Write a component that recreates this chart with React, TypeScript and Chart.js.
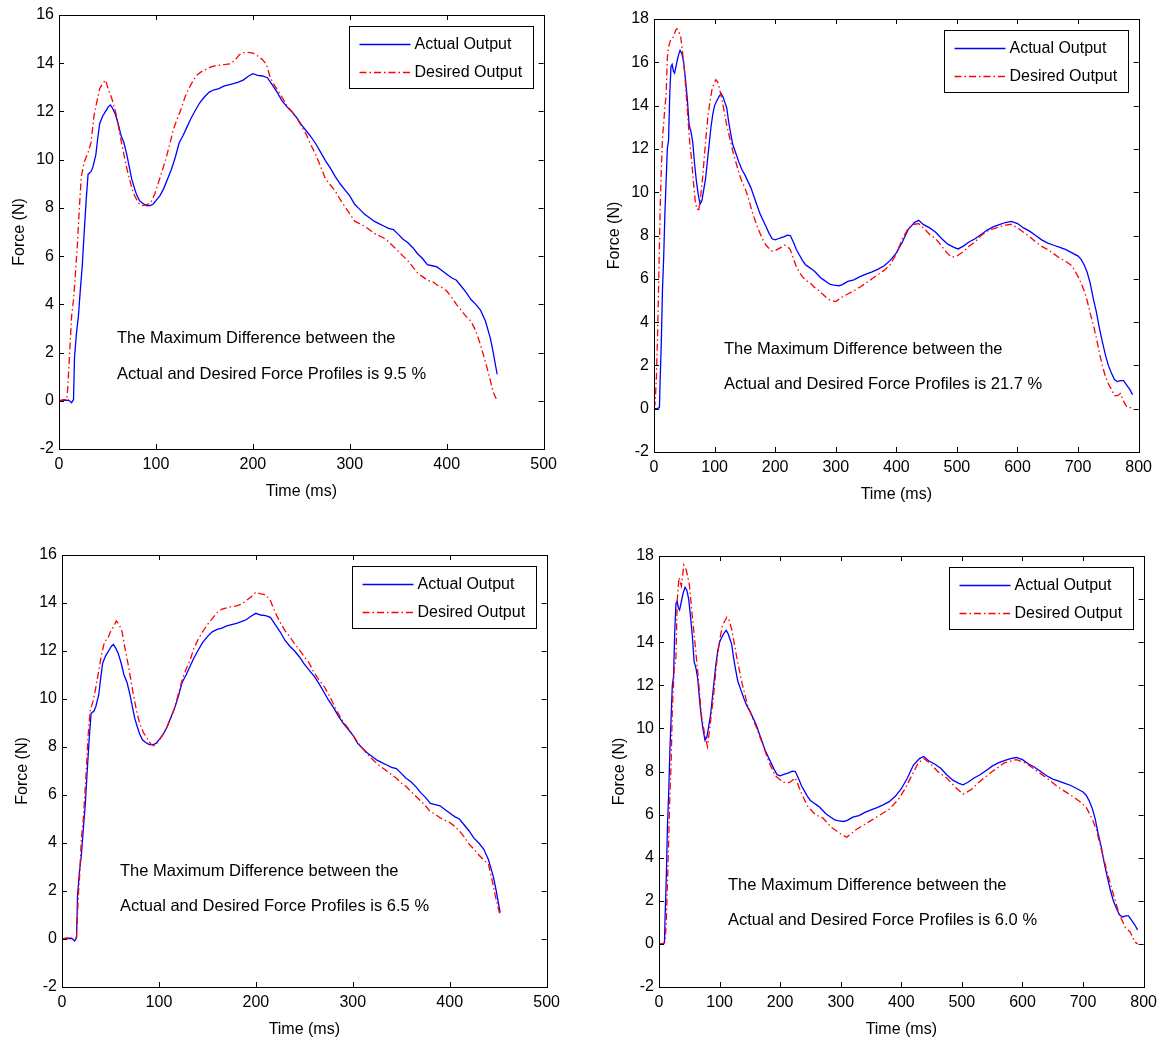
import React, { useEffect, useRef } from "react";
import { Chart, registerables } from "chart.js";

Chart.register(...registerables);

// ---------- DATA ----------
// Panels 1 & 3 (0-500 ms): actual output
const tActual1 = [0, 5, 10, 13, 15, 16, 18, 20, 22, 24, 26, 28, 30, 33, 35, 38, 40, 42, 45, 48, 51, 53, 55, 58, 61, 64, 67, 70, 73, 75, 78, 80, 83, 86, 90, 94, 97, 100, 104, 108, 112, 116, 120, 124, 128, 132, 136, 140, 145, 150, 155, 160, 165, 170, 175, 180, 185, 190, 195, 200, 205, 210, 215, 220, 225, 230, 235, 240, 245, 250, 255, 260, 265, 270, 275, 280, 285, 290, 295, 300, 305, 310, 315, 320, 325, 330, 335, 340, 345, 350, 355, 360, 365, 370, 375, 380, 385, 390, 395, 400, 405, 410, 415, 420, 425, 430, 435, 440, 445, 448, 452];
const fActual1 = [0, 0.02, 0.03, -0.08, 0.05, 1.8, 2.8, 3.5, 4.6, 5.6, 7.0, 8.3, 9.4, 9.5, 9.7, 10.2, 10.9, 11.5, 11.8, 12.0, 12.2, 12.27, 12.15, 11.9, 11.5, 11.0, 10.7, 10.2, 9.6, 9.2, 8.8, 8.55, 8.3, 8.2, 8.1, 8.1, 8.15, 8.3, 8.5, 8.8, 9.2, 9.6, 10.1, 10.7, 11.0, 11.35, 11.7, 12.0, 12.35, 12.6, 12.8, 12.9, 12.95, 13.05, 13.1, 13.15, 13.22, 13.3, 13.45, 13.57, 13.5, 13.47, 13.4, 13.1, 12.8, 12.45, 12.2, 12.0, 11.75, 11.45, 11.2, 10.95, 10.65, 10.3, 9.95, 9.65, 9.3, 9.0, 8.75, 8.5, 8.15, 7.95, 7.75, 7.6, 7.45, 7.35, 7.25, 7.15, 7.1, 6.9, 6.7, 6.55, 6.35, 6.1, 5.9, 5.65, 5.6, 5.55, 5.4, 5.25, 5.1, 5.0, 4.75, 4.5, 4.2, 4.0, 3.75, 3.3, 2.6, 2.0, 1.1];

// Panel 1: desired output
const tDesired1 = [0, 5, 8, 9, 11, 13, 15, 17, 19, 21, 23, 26, 30, 33, 36, 39, 42, 45, 48, 51, 54, 57, 60, 63, 66, 69, 72, 75, 78, 82, 86, 90, 95, 99, 103, 107, 110, 114, 118, 122, 126, 130, 134, 138, 142, 147, 152, 157, 162, 167, 172, 177, 182, 186, 190, 195, 200, 205, 210, 214, 218, 222, 226, 230, 235, 240, 245, 250, 255, 260, 265, 270, 275, 280, 285, 290, 295, 300, 305, 310, 315, 320, 325, 330, 335, 340, 345, 350, 355, 360, 365, 370, 375, 380, 385, 390, 395, 400, 405, 410, 415, 420, 425, 430, 435, 440, 444, 448, 452];
const fDesired1 = [0, 0.05, 0.05, 0.5, 2.0, 3.5, 4.2, 5.3, 6.5, 8.0, 9.3, 9.9, 10.3, 10.7, 11.8, 12.4, 12.95, 13.15, 13.3, 12.9, 12.6, 12.2, 11.7, 11.0, 10.4, 9.8, 9.3, 8.85, 8.5, 8.2, 8.1, 8.12, 8.25, 8.6, 9.1, 9.6, 10.0, 10.6, 11.25, 11.7, 12.1, 12.6, 12.95, 13.25, 13.5, 13.65, 13.75, 13.85, 13.9, 13.93, 13.95, 13.98, 14.15, 14.35, 14.44, 14.45, 14.42, 14.3, 14.15, 13.95, 13.4, 13.1, 12.85, 12.6, 12.25, 12.0, 11.75, 11.4, 11.05, 10.6, 10.2, 9.7, 9.2, 8.95, 8.7, 8.35, 8.05, 7.75, 7.45, 7.35, 7.25, 7.1, 6.95, 6.85, 6.75, 6.6, 6.4, 6.2, 6.0, 5.8, 5.55, 5.3, 5.15, 5.0, 4.95, 4.8, 4.7, 4.55, 4.3, 4.0, 3.75, 3.5, 3.3, 2.9, 2.3, 1.6, 1.0, 0.35, 0.0];

// Panel 3: desired output
const tDesired3 = [0, 5, 10, 14, 15, 17, 18, 20, 22, 25, 27, 29, 32, 35, 38, 41, 44, 47, 50, 53, 56, 59, 62, 65, 68, 71, 74, 77, 80, 84, 88, 92, 95, 99, 103, 108, 112, 116, 120, 124, 128, 132, 136, 140, 145, 150, 155, 160, 165, 170, 175, 180, 185, 190, 195, 200, 205, 210, 215, 220, 225, 230, 235, 240, 245, 250, 255, 260, 265, 270, 275, 280, 285, 290, 295, 300, 305, 310, 315, 320, 325, 330, 335, 340, 345, 350, 355, 360, 365, 370, 375, 380, 385, 390, 395, 400, 405, 410, 415, 420, 425, 430, 435, 440, 444, 447, 450, 452];
const fDesired3 = [0, 0.05, 0.02, 0.0, 0.1, 1.9, 2.5, 4.2, 5.0, 7.0, 8.5, 9.5, 9.9, 10.5, 11.2, 11.9, 12.4, 12.5, 12.8, 13.0, 13.25, 13.1, 12.8, 12.1, 11.5, 10.8, 10.1, 9.5, 9.0, 8.6, 8.35, 8.1, 8.05, 8.2, 8.45, 8.8, 9.2, 9.6, 10.2, 10.8, 11.25, 11.6, 12.1, 12.45, 12.8, 13.1, 13.35, 13.6, 13.75, 13.8, 13.85, 13.88, 13.95, 14.1, 14.25, 14.45, 14.38, 14.35, 14.1, 13.6, 13.2, 12.85, 12.6, 12.3, 12.05, 11.75, 11.5, 11.1, 10.8, 10.55, 10.2, 9.8, 9.4, 9.05, 8.8, 8.5, 8.2, 7.95, 7.7, 7.5, 7.3, 7.15, 7.0, 6.85, 6.7, 6.5, 6.35, 6.15, 5.95, 5.75, 5.55, 5.3, 5.2, 5.05, 4.95, 4.85, 4.7, 4.5, 4.25, 3.95, 3.75, 3.5, 3.3, 3.1, 2.4, 1.8, 1.3, 1.0];

// Panels 2 & 4 (0-800 ms): actual output
const tActual2 = [0, 5, 9, 10, 12, 14, 16, 18, 20, 22, 24, 26, 28, 30, 32, 34, 37, 40, 43, 46, 49, 52, 55, 58, 61, 64, 67, 70, 73, 76, 79, 82, 85, 88, 91, 94, 97, 100, 104, 108, 111, 114, 117, 120, 123, 126, 130, 135, 140, 145, 150, 155, 160, 165, 170, 175, 180, 185, 190, 195, 200, 205, 210, 215, 220, 225, 230, 235, 240, 245, 250, 255, 260, 265, 270, 275, 280, 285, 290, 295, 300, 305, 310, 315, 320, 330, 340, 350, 360, 370, 380, 390, 400, 410, 420, 430, 437, 445, 455, 465, 475, 485, 495, 502, 510, 520, 530, 540, 550, 560, 570, 580, 590, 600, 610, 620, 630, 640, 650, 660, 670, 680, 690, 700, 705, 710, 715, 720, 725, 730, 735, 740, 745, 750, 755, 760, 765, 770, 775, 780, 785, 790];
const fActual2 = [0, 0.0, 0.05, 1.2, 3.0, 5.5, 7.0, 9.0, 10.5, 12.0, 12.4, 14.5, 15.8, 15.9, 15.6, 15.5, 15.9, 16.3, 16.55, 16.4, 16.0, 15.2, 14.3, 13.1, 12.8, 12.3, 11.3, 10.5, 9.9, 9.45, 9.6, 10.1, 10.6, 11.4, 12.2, 13.0, 13.6, 14.0, 14.25, 14.45, 14.55, 14.4, 14.15, 13.9, 13.3, 12.8, 12.2, 11.8, 11.4, 11.05, 10.8, 10.5, 10.2, 9.8, 9.4, 9.0, 8.7, 8.4, 8.1, 7.85, 7.8, 7.85, 7.9, 7.95, 8.02, 8.0, 7.7, 7.35, 7.1, 6.85, 6.65, 6.55, 6.45, 6.35, 6.2, 6.05, 5.95, 5.85, 5.75, 5.72, 5.7, 5.68, 5.72, 5.8, 5.88, 5.95, 6.1, 6.22, 6.32, 6.45, 6.6, 6.85, 7.2, 7.7, 8.3, 8.6, 8.7, 8.5, 8.35, 8.15, 7.85, 7.6, 7.45, 7.38, 7.5, 7.7, 7.85, 8.05, 8.25, 8.4, 8.5, 8.6, 8.65, 8.55, 8.35, 8.2, 8.0, 7.8, 7.65, 7.55, 7.45, 7.35, 7.2, 7.05, 6.9, 6.65, 6.3, 5.8, 5.1, 4.5, 3.75, 3.1, 2.5, 2.0, 1.65, 1.35, 1.25, 1.3, 1.3, 1.1, 0.9, 0.65];

// Panel 2: desired output
const tDesired2 = [0, 2, 4, 6, 8, 10, 12, 14, 16, 18, 20, 22, 24, 27, 30, 33, 36, 38, 41, 44, 47, 50, 53, 56, 59, 62, 65, 68, 71, 74, 77, 80, 83, 86, 89, 92, 96, 99, 102, 105, 108, 112, 116, 120, 125, 130, 135, 140, 145, 150, 155, 160, 165, 170, 175, 180, 185, 190, 195, 200, 205, 210, 215, 220, 225, 230, 235, 240, 245, 250, 255, 260, 265, 270, 275, 280, 285, 290, 295, 300, 305, 310, 320, 330, 340, 350, 360, 370, 380, 390, 400, 410, 420, 430, 437, 445, 455, 465, 475, 485, 492, 500, 510, 520, 530, 540, 550, 560, 570, 580, 590, 600, 610, 620, 630, 640, 650, 660, 670, 680, 690, 700, 705, 710, 715, 720, 725, 730, 735, 740, 745, 750, 755, 760, 765, 770, 775, 780, 785, 790];
const fDesired2 = [0, 0.3, 1.5, 3.5, 6.2, 9.0, 11.0, 12.5, 13.2, 13.9, 14.5, 16.2, 16.7, 17.0, 17.05, 17.25, 17.5, 17.55, 17.4, 17.2, 16.5, 15.7, 14.6, 13.4, 12.3, 11.5, 10.5, 9.6, 9.2, 9.2, 9.8, 10.6, 11.6, 12.6, 13.5, 14.1, 14.8, 15.0, 15.2, 15.1, 14.8, 14.3, 13.7, 13.1, 12.5, 11.9, 11.4, 10.9, 10.5, 10.2, 9.8, 9.3, 8.85, 8.45, 8.1, 7.8, 7.55, 7.4, 7.28, 7.3, 7.38, 7.45, 7.55, 7.5, 7.35, 6.95, 6.55, 6.3, 6.1, 5.95, 5.85, 5.75, 5.6, 5.5, 5.38, 5.25, 5.12, 5.02, 4.98, 4.95, 5.05, 5.15, 5.3, 5.45, 5.62, 5.8, 6.0, 6.2, 6.4, 6.65, 7.15, 7.85, 8.35, 8.52, 8.55, 8.35, 8.05, 7.85, 7.5, 7.15, 7.0, 7.05, 7.25, 7.5, 7.7, 8.0, 8.2, 8.3, 8.4, 8.48, 8.52, 8.35, 8.15, 7.95, 7.7, 7.5, 7.35, 7.15, 6.95, 6.8, 6.6, 6.1, 5.8, 5.45, 5.0, 4.4, 3.9, 3.3, 2.6, 2.0, 1.5, 1.15, 0.9, 0.6, 0.6, 0.7, 0.35, 0.1, 0.05, 0.05];

// Panel 4: desired output
const tDesired4 = [0, 8, 10, 12, 15, 18, 20, 22, 25, 28, 30, 33, 37, 41, 45, 50, 55, 60, 65, 70, 75, 80, 85, 90, 95, 100, 105, 112, 116, 120, 128, 137, 147, 160, 172, 182, 192, 205, 215, 225, 235, 245, 258, 270, 285, 300, 310, 325, 340, 360, 380, 395, 405, 418, 428, 437, 447, 460, 475, 490, 502, 515, 530, 550, 570, 590, 605, 620, 640, 660, 680, 695, 705, 715, 722, 730, 740, 750, 760, 770, 778, 785, 790];
const fDesired4 = [0, 0.0, 0.1, 1.0, 3.8, 6.9, 8.4, 10.9, 12.7, 13.3, 15.9, 17.0, 16.6, 17.58, 17.35, 16.7, 15.2, 13.8, 12.3, 10.6, 9.8, 9.15, 10.3, 11.5, 13.0, 14.1, 14.8, 15.16, 15.0, 14.6, 13.35, 12.1, 11.0, 10.1, 9.2, 8.4, 7.8, 7.5, 7.48, 7.7, 7.0, 6.4, 6.0, 5.85, 5.4, 5.1, 4.95, 5.3, 5.55, 5.9, 6.25, 6.7, 7.15, 7.85, 8.4, 8.6, 8.4, 8.0, 7.7, 7.25, 6.95, 7.15, 7.55, 8.0, 8.4, 8.55, 8.4, 8.1, 7.7, 7.25, 6.9, 6.6, 6.35, 5.8, 5.3, 4.4, 3.3, 2.3, 1.35, 0.75, 0.55, 0.1, 0.0];

// Labels
const seriesLabels = ["Actual Output", "Desired Output"];
const xTitle = "Time (ms)";
const yTitle = "Force (N)";
const maxDifference = ["9.5", "21.7", "6.5", "6.0"];
const noteLine1 = "The Maximum Difference between the";
const noteLine2Prefix = "Actual and Desired Force Profiles is ";
const xMaxes = [500, 800, 500, 800];
const yMaxes = [16, 18, 16, 18];

// ---------- STYLE / LAYOUT ----------
const FONT = "'Liberation Sans', Arial, Helvetica, sans-serif";
const ACTUAL_COLOR = "#0000ff";
const DESIRED_COLOR = "#ff0000";
const DESIRED_DASH = [7, 3, 1.5, 3];
const LINE_W = 1.3;
const PAD_L = 59;
const PAD_T = 15;
const PAD_R = 17;
const PAD_B = 56;

type Panel = {
  plot: [number, number, number, number]; // left, top, right, bottom
  note: [number, number, number]; // dx, dy1, dy2 relative to plot area
  actual: [number[], number[]];
  desired: [number[], number[]];
};

const panels: Panel[] = [
  { plot: [59, 15, 546, 449], note: [58, 323, 359], actual: [tActual1, fActual1], desired: [tDesired1, fDesired1] },
  { plot: [654, 19, 1141, 452], note: [70, 330, 365], actual: [tActual2, fActual2], desired: [tDesired2, fDesired2] },
  { plot: [62, 555, 549, 987], note: [58, 316, 351], actual: [tActual1, fActual1], desired: [tDesired3, fDesired3] },
  { plot: [659, 556, 1146, 987], note: [69, 329, 364], actual: [tActual2, fActual2], desired: [tDesired4, fDesired4] },
];

const legendItems = [
  { label: seriesLabels[0], color: ACTUAL_COLOR, dash: [] as number[] },
  { label: seriesLabels[1], color: DESIRED_COLOR, dash: DESIRED_DASH },
];

function toPoints(t: number[], f: number[]) {
  return t.map((x, i) => ({ x, y: f[i] }));
}

function makePlugin(lines: string[], note: [number, number, number]) {
  return {
    id: "matlabFrame",
    afterDraw(chart: any) {
      const ctx: CanvasRenderingContext2D = chart.ctx;
      const a = chart.chartArea;
      const xs = chart.scales.x;
      const ys = chart.scales.y;
      ctx.save();
      // frame
      ctx.strokeStyle = "#000000";
      ctx.lineWidth = 1;
      ctx.setLineDash([]);
      ctx.strokeRect(Math.round(a.left) + 0.5, Math.round(a.top) + 0.5, Math.round(a.right - a.left), Math.round(a.bottom - a.top));
      // inward ticks on all sides
      const TL = 5;
      ctx.beginPath();
      xs.ticks.forEach((t: any) => {
        const px = Math.round(xs.getPixelForValue(t.value)) + 0.5;
        ctx.moveTo(px, a.bottom);
        ctx.lineTo(px, a.bottom - TL);
        ctx.moveTo(px, a.top);
        ctx.lineTo(px, a.top + TL);
      });
      ys.ticks.forEach((t: any) => {
        const py = Math.round(ys.getPixelForValue(t.value)) + 0.5;
        ctx.moveTo(a.left, py);
        ctx.lineTo(a.left + TL, py);
        ctx.moveTo(a.right, py);
        ctx.lineTo(a.right - TL, py);
      });
      ctx.stroke();
      // annotation
      ctx.fillStyle = "#000000";
      ctx.font = `16.5px ${FONT}`;
      ctx.textAlign = "left";
      ctx.textBaseline = "middle";
      ctx.fillText(lines[0], a.left + note[0], a.top + note[1]);
      ctx.fillText(lines[1], a.left + note[0], a.top + note[2]);
      // legend box
      const bw = 184;
      const bh = 62;
      const bx = Math.round(a.right - 11 - bw) + 0.5;
      const by = Math.round(a.top + 11) + 0.5;
      ctx.fillStyle = "#ffffff";
      ctx.fillRect(bx, by, bw, bh);
      ctx.strokeStyle = "#000000";
      ctx.lineWidth = 1;
      ctx.strokeRect(bx, by, bw, bh);
      ctx.font = `16px ${FONT}`;
      legendItems.forEach((item, i) => {
        const cy = by + 18 + i * 28;
        ctx.save();
        ctx.strokeStyle = item.color;
        ctx.lineWidth = LINE_W;
        ctx.setLineDash(item.dash);
        ctx.beginPath();
        ctx.moveTo(bx + 10, cy);
        ctx.lineTo(bx + 61, cy);
        ctx.stroke();
        ctx.restore();
        ctx.fillStyle = "#000000";
        ctx.textAlign = "left";
        ctx.textBaseline = "middle";
        ctx.fillText(item.label, bx + 65, cy);
      });
      ctx.restore();
    },
  };
}

function PanelChart({ index }: { index: number }) {
  const ref = useRef<HTMLCanvasElement | null>(null);
  const p = panels[index];
  const [L, T, R, B] = p.plot;
  const left = L - PAD_L;
  const top = T - PAD_T;
  const width = R - L + PAD_L + PAD_R;
  const height = B - T + PAD_T + PAD_B;

  useEffect(() => {
    if (!ref.current) return;
    const lines = [noteLine1, noteLine2Prefix + maxDifference[index] + " %"];
    const tickFont = { family: FONT, size: 16 };
    const chart = new Chart(ref.current, {
      type: "line",
      data: {
        datasets: [
          {
            label: seriesLabels[0],
            data: toPoints(p.actual[0], p.actual[1]),
            borderColor: ACTUAL_COLOR,
            borderWidth: LINE_W,
            pointRadius: 0,
            tension: 0,
            fill: false,
            order: 1,
          },
          {
            label: seriesLabels[1],
            data: toPoints(p.desired[0], p.desired[1]),
            borderColor: DESIRED_COLOR,
            borderWidth: LINE_W,
            borderDash: DESIRED_DASH,
            pointRadius: 0,
            tension: 0,
            fill: false,
            order: 0,
          },
        ],
      },
      options: {
        animation: false,
        responsive: false,
        maintainAspectRatio: false,
        devicePixelRatio: 1,
        layout: { padding: { left: 0, top: PAD_T, right: PAD_R, bottom: 0 } },
        plugins: { legend: { display: false }, tooltip: { enabled: false }, title: { display: false } },
        scales: {
          x: {
            type: "linear",
            min: 0,
            max: xMaxes[index],
            ticks: { stepSize: 100, padding: 6, color: "#000", font: tickFont, maxRotation: 0, autoSkip: false },
            grid: { display: false, drawTicks: false },
            border: { display: false },
            title: { display: true, text: xTitle, color: "#000", font: tickFont, padding: { top: 0, bottom: 4 } },
            afterFit: (s: any) => {
              s.height = PAD_B;
            },
          },
          y: {
            type: "linear",
            min: -2,
            max: yMaxes[index],
            ticks: { stepSize: 2, padding: 5, color: "#000", font: tickFont, autoSkip: false },
            grid: { display: false, drawTicks: false },
            border: { display: false },
            title: { display: true, text: yTitle, color: "#000", font: tickFont, padding: { top: 10.4, bottom: 0 } },
            afterFit: (s: any) => {
              s.width = PAD_L;
            },
          },
        },
      },
      plugins: [makePlugin(lines, p.note)],
    } as any);
    return () => chart.destroy();
  }, [index]);

  return (
    <canvas
      ref={ref}
      width={width}
      height={height}
      style={{ position: "absolute", left, top, width, height }}
    />
  );
}

export default function App() {
  return (
    <div
      style={{
        position: "absolute",
        left: 0,
        top: 0,
        width: 1163,
        height: 1045,
        overflow: "hidden",
        background: "#fff",
      }}
    >
      {panels.map((_, i) => (
        <PanelChart key={i} index={i} />
      ))}
    </div>
  );
}
